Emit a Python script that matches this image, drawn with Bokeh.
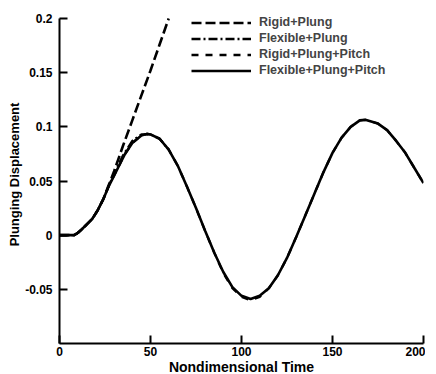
from bokeh.plotting import figure
from bokeh.models import Range1d, FixedTicker, Legend, LegendItem
from bokeh.embed import file_html
from bokeh.resources import INLINE

# ---- data ----
t_pitch = [0, 5, 8, 10, 12, 15, 18, 21, 24, 27, 30, 33, 36, 40, 45, 48, 50, 55, 60, 65, 70, 75,
           80, 85, 90, 95, 100, 105, 110, 115, 120, 125, 130, 135, 140, 145, 150, 155, 160, 165,
           168, 175, 180, 185, 190, 195, 200]
flex_plung_pitch = [0, 0, 0, 0.002, 0.005, 0.010, 0.015, 0.023, 0.033, 0.045, 0.055, 0.065, 0.075,
                    0.085, 0.092, 0.0935, 0.093, 0.089, 0.079, 0.064, 0.045, 0.025, 0.004, -0.016,
                    -0.034, -0.048, -0.056, -0.059, -0.056, -0.049, -0.037, -0.021, -0.002, 0.018,
                    0.038, 0.058, 0.076, 0.090, 0.100, 0.106, 0.1065, 0.103, 0.097, 0.087, 0.076,
                    0.062, 0.048]
rigid_plung_pitch = [0, 0, 0, 0.002, 0.005, 0.010, 0.015, 0.023, 0.033, 0.045, 0.055, 0.065, 0.075,
                     0.085, 0.092, 0.0935, 0.093, 0.089, 0.079, 0.064, 0.045, 0.025, 0.004, -0.016,
                     -0.035, -0.049, -0.057, -0.060, -0.057, -0.049, -0.037, -0.021, -0.002, 0.018,
                     0.038, 0.058, 0.076, 0.090, 0.100, 0.106, 0.1065, 0.103, 0.097, 0.087, 0.076,
                     0.062, 0.048]
t_plung = [0, 5, 8, 10, 12, 15, 18, 21, 24, 27, 30, 35, 40, 45, 50, 55, 60]
rigid_plung = [0, 0, 0, 0.002, 0.005, 0.010, 0.015, 0.023, 0.033, 0.046, 0.059, 0.083, 0.106,
               0.129, 0.152, 0.176, 0.200]
flex_plung = [0, 0, 0, 0.002, 0.005, 0.010, 0.015, 0.023, 0.033, 0.045, 0.057, 0.074, 0.087,
              0.093, 0.093, 0.089, 0.079]

x_ticks = [0, 50, 100, 150, 200]
y_ticks = [-0.05, 0, 0.05, 0.1, 0.15, 0.2]
y_tick_labels = ["-0.05", "0", "0.05", "0.1", "0.15", "0.2"]
series_names = ["Rigid+Plung", "Flexible+Plung", "Rigid+Plung+Pitch", "Flexible+Plung+Pitch"]

FONT = "Liberation Sans"

# y range reaches a little above 0.2 so the legend is not clipped; the axis line stops at 0.2
p = figure(frame_width=364, frame_height=338, output_backend="svg", toolbar_location=None,
           x_range=Range1d(0, 200), y_range=Range1d(-0.1, 0.212),
           min_border_left=59, min_border_top=5, min_border_right=2, min_border_bottom=10)
p.outline_line_color = None
p.grid.visible = False
p.background_fill_color = "white"
p.border_fill_color = "white"

r_fpp = p.line(t_pitch, flex_plung_pitch, line_color="black", line_width=2.6)
r_rpp = p.line(t_pitch, rigid_plung_pitch, line_color="black", line_width=2.3, line_dash="7 7")
r_fp = p.line(t_plung, flex_plung, line_color="black", line_width=2.3, line_dash="9 3 2 3")
r_rp = p.line(t_plung, rigid_plung, line_color="black", line_width=2.6, line_dash="10 4")

legend = Legend(items=[
    LegendItem(label=series_names[0], renderers=[r_rp]),
    LegendItem(label=series_names[1], renderers=[r_fp]),
    LegendItem(label=series_names[2], renderers=[r_rpp]),
    LegendItem(label=series_names[3], renderers=[r_fpp]),
], location=(132, 266), glyph_width=60, glyph_height=13, label_height=13, spacing=2,
   label_standoff=8, padding=0, margin=0, border_line_color=None, background_fill_alpha=0,
   label_text_font=FONT, label_text_font_style="bold", label_text_font_size="12.5px")
p.add_layout(legend, "center")

for ax in (p.xaxis[0], p.yaxis[0]):
    ax.axis_line_width = 2
    ax.major_tick_line_width = 2
    ax.major_tick_in = 8
    ax.major_tick_out = 0
    ax.minor_tick_in = 0
    ax.minor_tick_out = 0
    ax.major_label_text_font = FONT
    ax.major_label_text_font_style = "bold"
    ax.major_label_text_font_size = "12px"
    ax.major_label_text_color = "black"
    ax.axis_label_text_font = FONT
    ax.axis_label_text_font_style = "bold"
    ax.axis_label_text_color = "black"

p.yaxis[0].bounds = (-0.1, 0.2)
p.xaxis[0].axis_label_text_font_size = "14px"
p.yaxis[0].axis_label_text_font_size = "13px"
p.xaxis[0].ticker = FixedTicker(ticks=x_ticks)
p.yaxis[0].ticker = FixedTicker(ticks=y_ticks)
p.yaxis[0].major_label_overrides = {v: s for v, s in zip(y_ticks, y_tick_labels)}
p.xaxis[0].major_label_standoff = 3
p.yaxis[0].major_label_standoff = 7
p.xaxis[0].axis_label = "Nondimensional Time"
p.yaxis[0].axis_label = "Plunging Displacement"
p.xaxis[0].axis_label_standoff = 0
p.yaxis[0].axis_label_standoff = 0

open("out.html", "w").write(file_html(p, INLINE))
